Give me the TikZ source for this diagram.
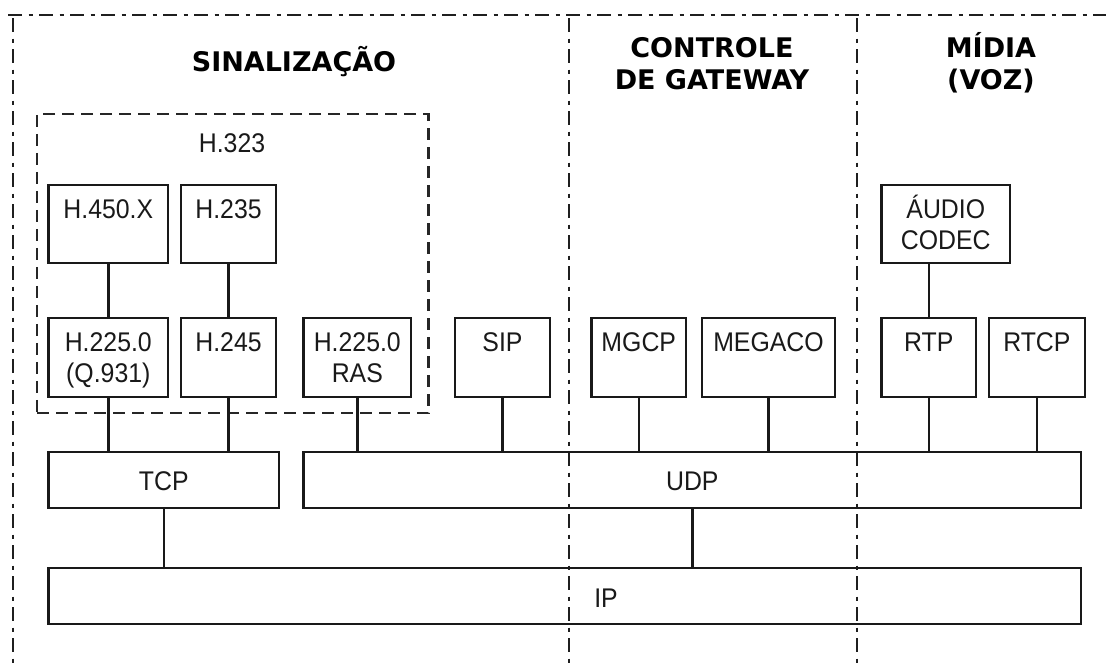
\documentclass[tikz,border=0pt]{standalone}
\usepackage{fontspec}
\usetikzlibrary{fit}
\newfontfamily\lblfont{Liberation Sans}[FakeStretch=0.92]
\newfontfamily\hdrfont{DejaVu Sans}
\begin{document}
\begin{tikzpicture}[x=1pt,y=-1pt,
  frameline/.style={line width=2.6pt, draw=black!88, dash pattern=on 14pt off 6.5pt on 4pt off 6.5pt},
  grp/.style={draw=black!85, line width=2.4pt, dash pattern=on 12pt off 7pt, inner sep=0pt, rectangle},
  box/.style={draw=black!90, line width=2.4pt, inner sep=0pt, rectangle},
  wire/.style={draw=black!90, line width=2.4pt},
  lbl/.style={inner sep=0pt, anchor=base, align=center, text=black!90, font=\lblfont\fontsize{27}{31}\selectfont},
  hdr/.style={inner sep=0pt, anchor=base, align=center, text=black, font=\hdrfont\bfseries\fontsize{27}{32}\selectfont}]
\useasboundingbox (0,0) rectangle (1106,667);
% region separators
\draw[frameline] (8,15) -- (1106,15);
\draw[frameline] (13,18) -- (13,667);
\draw[frameline] (569,18) -- (569,667);
\draw[frameline] (857,18) -- (857,667);
% headers (base anchor = baseline of the last line)
\node[hdr] (hsin) at (294,71) {SINALIZAÇÃO};
\node[hdr] (hctl) at (712,89) {CONTROLE\\DE GATEWAY};
\node[hdr] (hmid) at (991,89) {MÍDIA\\(VOZ)};
% H.323 group
\node[grp, fit={(37,114) (428.6,413)}] (h323) {};
\node[lbl] (th323) at (232,152) {H.323};
% upper row
\node[box, fit={(48.6,185) (168,263)}] (h450) {};
\node[box, fit={(181,185) (276,263)}] (h235) {};
\node[box, fit={(881.6,185) (1010,263)}] (codec) {};
% lower row
\node[box, fit={(48.6,318) (168,397)}] (h2250) {};
\node[box, fit={(181,318) (276,397)}] (h245) {};
\node[box, fit={(303.6,318) (411,397)}] (ras) {};
\node[box, fit={(455,318) (550,397)}] (sip) {};
\node[box, fit={(591.5,318) (686,397)}] (mgcp) {};
\node[box, fit={(702,318) (835,397)}] (megaco) {};
\node[box, fit={(881.6,318) (976,397)}] (rtp) {};
\node[box, fit={(989,318) (1084.7,397)}] (rtcp) {};
% transport and network
\node[box, fit={(48.6,452) (279,508)}] (tcp) {};
\node[box, fit={(303.6,452) (1081,508)}] (udp) {};
\node[box, fit={(48.6,568) (1081,624)}] (ip) {};
% labels
\node[lbl] (th450) at (h450.north |- 0,218) {H.450.X};
\node[lbl] (th235) at (h235.north |- 0,218) {H.235};
\node[lbl] (tcodec) at (codec.north |- 0,249) {ÁUDIO\\CODEC};
\node[lbl] (th2250) at (h2250.north |- 0,382) {H.225.0\\(Q.931)};
\node[lbl] (th245) at (h245.north |- 0,351) {H.245};
\node[lbl] (tras) at (ras.north |- 0,382) {H.225.0\\RAS};
\node[lbl] (tsip) at (sip.north |- 0,351) {SIP};
\node[lbl] (tmgcp) at (mgcp.north |- 0,351) {MGCP};
\node[lbl] (tmegaco) at (megaco.north |- 0,351) {MEGACO};
\node[lbl] (trtp) at (rtp.north |- 0,351) {RTP};
\node[lbl] (trtcp) at (rtcp.north |- 0,351) {RTCP};
\node[lbl] (ttcp) at (tcp.north |- 0,490) {TCP};
\node[lbl] (tudp) at (udp.north |- 0,490) {UDP};
\node[lbl] (tip) at (606,607) {IP};
% connectors
\draw[wire] (h450.south) -- (h2250.north);
\draw[wire] (h235.south) -- (h245.north);
\draw[wire] (rtp.north) -- (rtp.north |- codec.south);
\draw[wire] (h2250.south) -- (h2250.south |- tcp.north);
\draw[wire] (h245.south) -- (h245.south |- tcp.north);
\draw[wire] (ras.south) -- (ras.south |- udp.north);
\draw[wire] (sip.south) -- (sip.south |- udp.north);
\draw[wire] (mgcp.south) -- (mgcp.south |- udp.north);
\draw[wire] (megaco.south) -- (megaco.south |- udp.north);
\draw[wire] (rtp.south) -- (rtp.south |- udp.north);
\draw[wire] (rtcp.south) -- (rtcp.south |- udp.north);
\draw[wire] (tcp.south) -- (tcp.south |- ip.north);
\draw[wire] (udp.south) -- (udp.south |- ip.north);
\end{tikzpicture}
\end{document}
